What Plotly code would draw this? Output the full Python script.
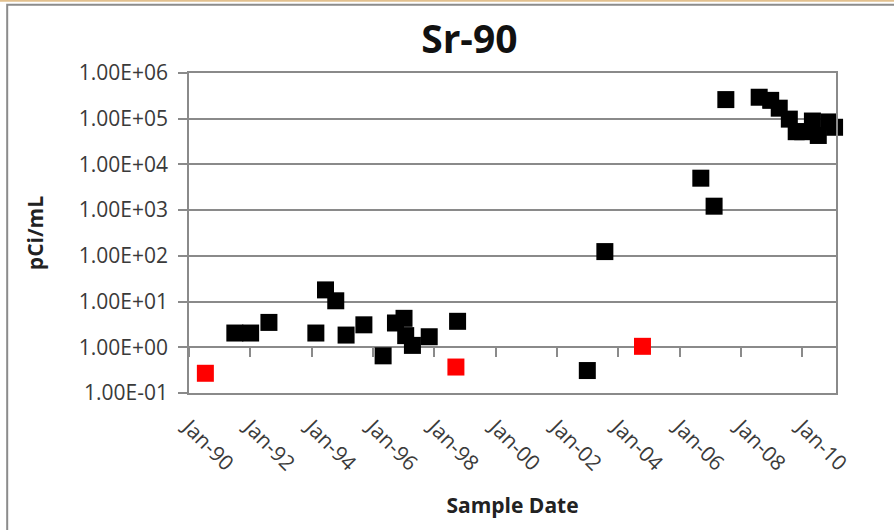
import plotly.graph_objects as go

# Sr-90 sample results (pCi/mL)
detect_dates = [
    "1991-07-01", "1992-01-05", "1992-08-10", "1994-02-20", "1994-06-15",
    "1994-10-15", "1995-02-15", "1995-09-15", "1996-05-01", "1996-09-25",
    "1997-01-05", "1997-01-25", "1997-04-15", "1997-11-01", "1998-10-05",
    "2002-12-28", "2003-07-25", "2006-09-10", "2007-02-15", "2007-07-05",
    "2008-08-05", "2008-12-20", "2009-04-01", "2009-07-30", "2009-10-20",
    "2010-01-05", "2010-05-01", "2010-07-10", "2010-11-15", "2011-01-20",
]
detect_values = [
    2.05, 2.05, 3.5, 2.05, 18,
    10.4, 1.85, 3.1, 0.65, 3.4,
    4.3, 1.8, 1.1, 1.7, 3.7,
    0.31, 124, 5000, 1220, 262000,
    295000, 252000, 170000, 98000, 52000,
    52000, 89000, 43000, 85000, 65000,
]

# red points
flag_dates = ["1990-07-15", "1998-09-15", "2004-10-15"]
flag_values = [0.27, 0.37, 1.05]

y_tickvals = [1e-1, 1e0, 1e1, 1e2, 1e3, 1e4, 1e5, 1e6]
y_ticktext = ["1.00E-01", "1.00E+00", "1.00E+01", "1.00E+02",
              "1.00E+03", "1.00E+04", "1.00E+05", "1.00E+06"]

x_range = ["1990-01-01", "2011-02-06"]

FONT = "Open Sans"
GRID = "#8a8a8a"

fig = go.Figure()
fig.add_trace(go.Scatter(
    x=detect_dates, y=detect_values, mode="markers",
    marker=dict(symbol="square", size=17, color="#000000"),
    cliponaxis=False, showlegend=False,
))
fig.add_trace(go.Scatter(
    x=flag_dates, y=flag_values, mode="markers",
    marker=dict(symbol="square", size=17, color="#ff0000"),
    cliponaxis=False, showlegend=False,
))

fig.update_layout(
    width=894, height=530,
    margin=dict(l=189, r=58, t=73, b=137),
    paper_bgcolor="white", plot_bgcolor="white",
    font=dict(family=FONT, color="#3a3a3a", size=21),
    title=dict(
        text="<b>Sr-90</b>", x=0.525, xanchor="center",
        y=0.925, yanchor="middle", yref="container",
        font=dict(family=FONT, size=39, color="#111111"),
    ),
    xaxis=dict(
        type="date", range=x_range,
        tick0="1990-01-01", dtick="M24", tickformat="%b-%y",
        tickangle=45, ticks="", showgrid=False, ticklabelstandoff=12,
        showline=True, linecolor=GRID, linewidth=1.5, mirror=True,
        title=dict(text="<b>Sample Date</b>", standoff=23,
                   font=dict(family=FONT, size=21, color="#222222")),
        zeroline=False,
    ),
    # second x axis only to carry the tick marks on the 1.00E+00 line
    xaxis2=dict(
        type="date", range=x_range, overlaying="x", anchor="free",
        position=(0 + 1) / 7,
        tick0="1990-01-01", dtick="M24",
        ticks="outside", ticklen=9, tickcolor=GRID, tickwidth=1.5,
        showticklabels=False, showgrid=False, showline=False,
    ),
    yaxis=dict(
        type="log", range=[-1, 6],
        tickvals=y_tickvals, ticktext=y_ticktext,
        ticks="outside", ticklen=9, tickcolor=GRID, tickwidth=1.5,
        ticklabelstandoff=6,
        showgrid=True, gridcolor=GRID, gridwidth=1.5,
        showline=True, linecolor=GRID, linewidth=1.5, mirror=True,
        title=dict(text="<b>pCi/mL</b>", standoff=29,
                   font=dict(family=FONT, size=21, color="#222222")),
        zeroline=False,
    ),
    shapes=[
        # outer chart frame
        dict(type="rect", xref="paper", yref="paper",
             x0=-0.281, x1=1.3, y0=-0.6, y1=1.213,
             line=dict(color="#8c8c8c", width=2), layer="below"),
        dict(type="line", xref="paper", yref="paper",
             x0=-0.4, x1=1.3, y0=1.2256, y1=1.2256,
             line=dict(color="#e2c08e", width=2)),
    ],
)

# dummy trace so the tick-mark axis is drawn
fig.add_trace(go.Scatter(x=[], y=[], xaxis="x2", showlegend=False))

fig.write_html(
    "out.html",
    config={"displayModeBar": False},
    post_script="document.body.style.margin='0';",
)
